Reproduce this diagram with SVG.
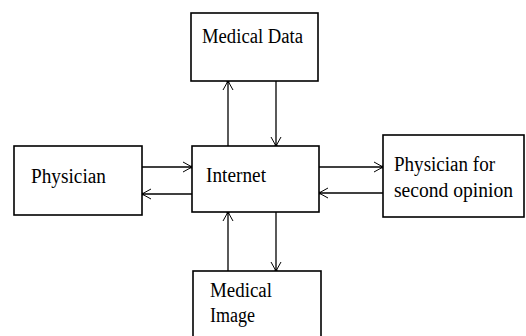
<svg xmlns="http://www.w3.org/2000/svg" width="526" height="336" viewBox="0 0 526 336">
<style>
.box{fill:#fff;stroke:#000;stroke-width:1.6}
.t{font-family:"Liberation Serif","Times New Roman",serif;font-size:20px;fill:#000}
.c{stroke:#000;stroke-width:1.3;fill:none}
</style>
<defs>
<marker id="arr" markerUnits="userSpaceOnUse" markerWidth="14" markerHeight="14" viewBox="-10 -7 12 14" refX="0" refY="0" orient="auto">
<path d="M-9,-5 L0,0 L-9,5" fill="none" stroke="#000" stroke-width="1"/>
<circle cx="-0.5" cy="0" r="1.5" fill="#000"/>
</marker>
</defs>
<rect width="526" height="336" fill="#fff"/>
<g id="connectors">
<line class="c" x1="228" y1="146" x2="228" y2="81" marker-end="url(#arr)"/>
<line class="c" x1="276" y1="81" x2="276" y2="146" marker-end="url(#arr)"/>
<line class="c" x1="142" y1="167" x2="192" y2="167" marker-end="url(#arr)"/>
<line class="c" x1="192" y1="194" x2="142" y2="194" marker-end="url(#arr)"/>
<line class="c" x1="319" y1="167" x2="383" y2="167" marker-end="url(#arr)"/>
<line class="c" x1="383" y1="193" x2="319" y2="193" marker-end="url(#arr)"/>
<line class="c" x1="228" y1="271" x2="228" y2="212" marker-end="url(#arr)"/>
<line class="c" x1="276" y1="212" x2="276" y2="271" marker-end="url(#arr)"/>
</g>
<g id="medical-data">
<rect class="box" x="191" y="13" width="127" height="68"/>
<text class="t" x="202" y="43" textLength="101" lengthAdjust="spacingAndGlyphs">Medical Data</text>
</g>
<g id="physician">
<rect class="box" x="14" y="146" width="128" height="69"/>
<text class="t" x="31" y="183" textLength="75" lengthAdjust="spacingAndGlyphs">Physician</text>
</g>
<g id="internet">
<rect class="box" x="192" y="146" width="127" height="66"/>
<text class="t" x="206" y="182" textLength="60" lengthAdjust="spacingAndGlyphs">Internet</text>
</g>
<g id="second-opinion">
<rect class="box" x="383" y="135" width="141" height="82"/>
<text class="t" x="394" y="171" textLength="101" lengthAdjust="spacingAndGlyphs">Physician for</text>
<text class="t" x="394" y="197" textLength="119" lengthAdjust="spacingAndGlyphs">second opinion</text>
</g>
<g id="medical-image">
<rect class="box" x="193" y="271" width="128" height="80"/>
<text class="t" x="210" y="297" textLength="62" lengthAdjust="spacingAndGlyphs">Medical</text>
<text class="t" x="210" y="322" textLength="45" lengthAdjust="spacingAndGlyphs">Image</text>
</g>
</svg>
